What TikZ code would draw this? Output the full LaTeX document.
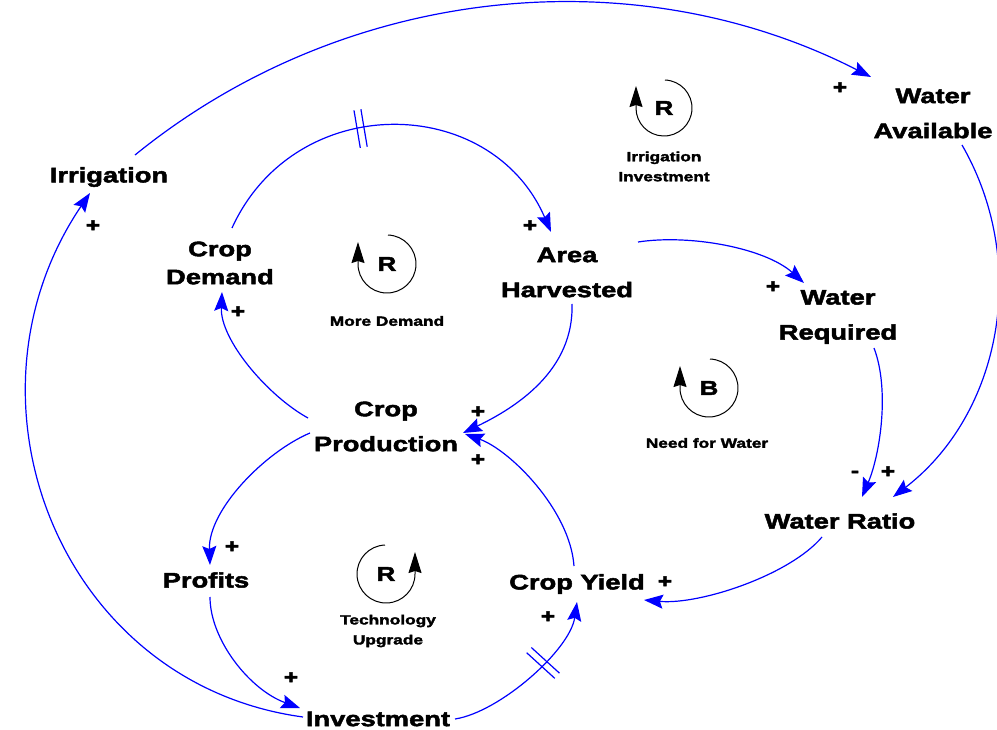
\documentclass[tikz,border=0pt]{standalone}
\usepackage{fontspec}
\setmainfont{Liberation Sans}
\newfontfamily\vfont{Liberation Sans}[FakeStretch=1.3, BoldFeatures={FakeBold=2.4}]
\usetikzlibrary{arrows.meta,decorations.markings}
\definecolor{linkblue}{RGB}{0,0,255}
\tikzset{
  var/.style={font=\vfont\bfseries\fontsize{21}{35}\selectfont, align=center, inner sep=0pt},
  looplabel/.style={font=\vfont\bfseries\fontsize{13.3}{20}\selectfont, align=center, inner sep=0pt},
  loopsign/.style={font=\vfont\bfseries\fontsize{20}{20}\selectfont, inner sep=0pt},
  polarity/.style={font=\vfont\bfseries\fontsize{19}{19}\selectfont, inner sep=0pt},
  link/.style={draw=linkblue, line width=1.2pt, -{Stealth[length=19pt,width=14pt,inset=3pt]}},
  loopline/.style={draw=black, line width=1pt, -{Stealth[length=21pt,width=13pt,inset=2pt]}},
  delaymark/.style={postaction={decorate, decoration={markings,
    mark=at position #1 with {\draw[-, linkblue, line width=1.2pt]
      (-3.5pt,-19pt) -- (-3.5pt,19pt) (3.5pt,-19pt) -- (3.5pt,19pt);}}}}
}
\begin{document}
\begin{tikzpicture}[x=1pt,y=-1pt]
\useasboundingbox (0,0) rectangle (997,730);

% variables
\node[var] (irr)   at (109,177)   {Irrigation};
\node[var] (wa)    at (933,113.5) {Water\\Available};
\node[var, font=\vfont\bfseries\fontsize{21}{28}\selectfont] (dem) at (220,263) {Crop\\Demand};
\node[var] (area)  at (567,272.5) {Area\\Harvested};
\node[var] (req)   at (838,317)   {Water\\Required};
\node[var] (prod)  at (386,426.5) {Crop\\Production};
\node[var] (ratio) at (840,521)   {Water Ratio};
\node[var] (prof)  at (206,580)   {Profits};
\node[var] (yield) at (577,584)   {Crop Yield};
\node[var] (inv)   at (378,719)   {Investment};

% causal links
\draw[link] ([shift={(26,-22)}]irr.center) .. controls (343,-14) and (632,-45) .. ([shift={(-62,-36.5)}]wa.center);
\draw[link] ([shift={(29,31.5)}]wa.center) .. controls (1030,263) and (1001,414) .. ([shift={(53,-24)}]ratio.center);
\draw[link, delaymark=0.42] ([shift={(12,-35)}]dem.center) .. controls (295,90) and (491,93) .. ([shift={(-16,-40.5)}]area.center);
\draw[link] ([shift={(71,-30.5)}]area.center) .. controls (690,234) and (765,248) .. ([shift={(-34,-34)}]req.center);
\draw[link] ([shift={(5,31.5)}]area.center) .. controls (574,370) and (517,407) .. ([shift={(77,6.5)}]prod.center);
\draw[link] ([shift={(-78,-8.5)}]prod.center) .. controls (268,396) and (220,340) .. ([shift={(2,29)}]dem.center);
\draw[link] ([shift={(-76,6.5)}]prod.center) .. controls (265,452) and (208,510) .. ([shift={(4,-15)}]prof.center);
\draw[link] ([shift={(4,17)}]prof.center) .. controls (210,640) and (250,690) .. ([shift={(-78,-11)}]inv.center);
\draw[link, delaymark=0.6] ([shift={(77,0)}]inv.center) .. controls (500,712) and (570,650) .. ([shift={(0,18)}]yield.center);
\draw[link] ([shift={(-3,-18)}]yield.center) .. controls (570,510) and (510,450) .. ([shift={(79,7.5)}]prod.center);
\draw[link] ([shift={(36,31)}]req.center) .. controls (890,390) and (880,455) .. ([shift={(22,-24)}]ratio.center);
\draw[link] ([shift={(-18,16)}]ratio.center) .. controls (790,575) and (700,605) .. ([shift={(67,16)}]yield.center);
\draw[link] ([shift={(-75,-2)}]inv.center) .. controls (60,684) and (-50,400) .. ([shift={(-19,16)}]irr.center);

% link polarities
\node[polarity] (s1)  at (840,88)  {+};
\node[polarity] (s2)  at (93,226)  {+};
\node[polarity] (s3)  at (530,226) {+};
\node[polarity] (s4)  at (238,312) {+};
\node[polarity] (s5)  at (773,287) {+};
\node[polarity] (s6)  at (478,412) {+};
\node[polarity] (s7)  at (478,460) {+};
\node[polarity] (s8)  at (232,547) {+};
\node[polarity] (s9)  at (291,678) {+};
\node[polarity] (s10) at (548,617) {+};
\node[polarity] (s11) at (665,582) {+};
\node[polarity] (s12) at (855,474) {-};
\node[polarity] (s13) at (888,472) {+};

% loop markers
\node[loopsign] (l1) at (664,108) {R};
\draw[loopline] ([shift={(-88:28)}]l1.center) arc[start angle=-88, end angle=180, radius=28] -- ++(0,-22);
\node[looplabel] (l1t) at (664,166.5) {Irrigation\\Investment};

\node[loopsign] (l2) at (387,264) {R};
\draw[loopline] ([shift={(-88:29)}]l2.center) arc[start angle=-88, end angle=180, radius=29] -- ++(0,-22);
\node[looplabel] (l2t) at (387,321) {More Demand};

\node[loopsign] (l3) at (709,388) {B};
\draw[loopline] ([shift={(-88:29)}]l3.center) arc[start angle=-88, end angle=180, radius=29] -- ++(0,-22);
\node[looplabel] (l3t) at (707,443) {Need for Water};

\node[loopsign] (l4) at (386,574) {R};
\draw[loopline] ([shift={(-92:29)}]l4.center) arc[start angle=-92, end angle=-360, radius=29] -- ++(0,-22);
\node[looplabel] (l4t) at (388,631) {Technology\\Upgrade};
\end{tikzpicture}
\end{document}
